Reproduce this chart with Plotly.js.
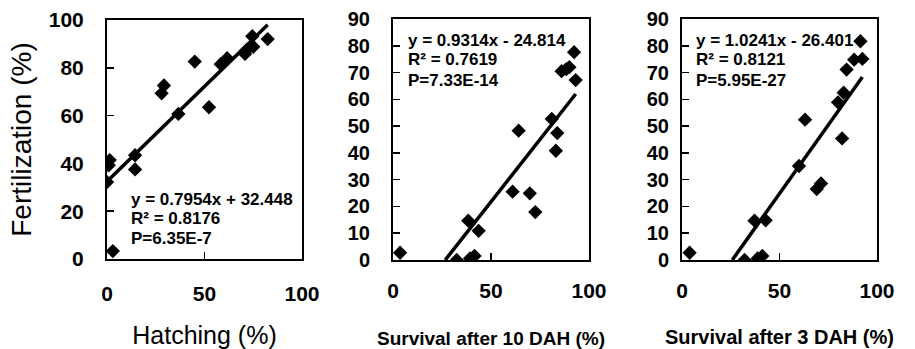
<!DOCTYPE html>
<html>
<head>
<meta charset="utf-8">
<script src="https://cdn.plot.ly/plotly-3.0.1.min.js"></script>
<style>html,body{margin:0;padding:0;background:#fff;}#chart{width:915px;height:349px;}</style>
</head>
<body>
<div id="chart"></div>
<script>
// Panel 1: Hatching vs Fertilization
var hatching = [0, 0.9, 1.4, 3, 14.4, 14.4, 28, 29.2, 36.6, 45, 52.3, 58.3, 61.6, 70.8, 71.6, 74.5, 75, 82.4];
var fert1 = [32.2, 39.2, 41.4, 3.3, 43.4, 37.5, 69.3, 72.6, 60.7, 82.6, 63.5, 81.5, 84, 85.8, 87.4, 93.2, 88.8, 92];
// Panel 2: Survival after 10 DAH vs Fertilization
var surv10 = [3.6, 32.5, 38.4, 39.3, 41.6, 43.7, 61, 64.1, 69.8, 72.6, 81, 83.1, 83.8, 86, 88.4, 90, 92.4, 93.2];
var fert2 = [2.7, 0, 14.7, 0.6, 1.5, 10.9, 25.5, 48.3, 24.9, 17.9, 52.7, 40.8, 47.4, 70.5, 71.3, 72, 77.6, 67.2];
// Panel 3: Survival after 3 DAH vs Fertilization
var surv3 = [3.9, 32.1, 37.2, 38.8, 41.2, 42.9, 60, 63.1, 69.1, 71.3, 80, 82.1, 82.9, 84.4, 88.3, 91.5, 92.5];
var fert3 = [2.7, 0, 14.7, 0.6, 1.5, 14.8, 35.1, 52.4, 26.5, 28.6, 58.9, 45.4, 62.5, 71.1, 74.8, 81.7, 75.1];
// Trendline coefficients (from the chart's equations)
var slopes = [0.7954, 0.9314, 1.0241];
var intercepts = [32.448, -24.814, -26.401];
var eqText = ['y = 0.7954x + 32.448', 'y = 0.9314x - 24.814', 'y = 1.0241x - 26.401'];
var r2Text = ['R² = 0.8176', 'R² = 0.7619', 'R² = 0.8121'];
var pText = ['P=6.35E-7', 'P=7.33E-14', 'P=5.95E-27'];
var xTitles = ['Hatching (%)', 'Survival after 10 DAH (%)', 'Survival after 3 DAH (%)'];
var yTitle = 'Fertilization (%)';
var xTicks = [0, 50, 100];
var yTicks1 = [0, 20, 40, 60, 80, 100];
var yTicks23 = [0, 10, 20, 30, 40, 50, 60, 70, 80, 90];

var xs = [hatching, surv10, surv3];
var ys = [fert1, fert2, fert3];
var axX = ['x', 'x2', 'x3'];
var axY = ['y', 'y2', 'y3'];
var traces = [];
for (var i = 0; i < 3; i++) {
  traces.push({
    type: 'scatter', mode: 'markers', x: xs[i], y: ys[i], xaxis: axX[i], yaxis: axY[i],
    marker: {symbol: 'diamond', size: 11, color: '#000'}, showlegend: false, hoverinfo: 'x+y'
  });
  var xmin = Math.min.apply(null, xs[i]), xmax = Math.max.apply(null, xs[i]);
  var x0 = Math.max(xmin, -intercepts[i] / slopes[i]);
  traces.push({
    type: 'scatter', mode: 'lines', x: [x0, xmax],
    y: [slopes[i] * x0 + intercepts[i], slopes[i] * xmax + intercepts[i]],
    xaxis: axX[i], yaxis: axY[i], line: {color: '#000', width: 3.5}, showlegend: false, hoverinfo: 'skip'
  });
}

var FONT = 'Arial, "Liberation Sans", sans-serif';
function xax(domain, anchor, tickSize, standoff, title, titleFont, titleStandoff) {
  return {
    domain: domain, anchor: anchor, range: [0, 100], tickvals: xTicks, ticktext: xTicks.map(String),
    showline: true, mirror: true, linecolor: '#000', linewidth: 2, showgrid: false, zeroline: false,
    ticks: 'inside', ticklen: 7, tickwidth: 1.5, tickcolor: '#000',
    tickfont: {family: FONT, size: tickSize, color: '#000', weight: 'bold'}, ticklabelstandoff: standoff,
    title: {text: title, font: titleFont, standoff: titleStandoff}
  };
}
function yax(domain, anchor, range, vals, tickSize, standoff, title) {
  var a = {
    domain: domain, anchor: anchor, range: range, tickvals: vals, ticktext: vals.map(String),
    showline: true, mirror: true, linecolor: '#000', linewidth: 2, showgrid: false, zeroline: false,
    ticks: 'inside', ticklen: 7, tickwidth: 1.5, tickcolor: '#000',
    tickfont: {family: FONT, size: tickSize, color: '#000', weight: 'bold'}, ticklabelstandoff: standoff
  };
  if (title) a.title = {text: title, font: {family: FONT, size: 28, color: '#000'}, standoff: 9};
  return a;
}

var W = 915, H = 349;
function px(v) { return v / W; }
function py(v) { return 1 - v / H; }

var layout = {
  width: W, height: H, margin: {l: 0, r: 0, t: 0, b: 0},
  paper_bgcolor: '#fff', plot_bgcolor: '#fff', showlegend: false,
  xaxis: xax([px(107), px(302)], 'y', 21, 15, xTitles[0],
    {family: FONT, size: 25, color: '#000'}, 28),
  xaxis2: xax([px(393), px(589)], 'y2', 21, 11, xTitles[1],
    {family: FONT, size: 19, color: '#000', weight: 'bold'}, 35),
  xaxis3: xax([px(682), px(877)], 'y3', 21, 11, xTitles[2],
    {family: FONT, size: 20, color: '#000', weight: 'bold'}, 29),
  yaxis: yax([py(259), py(20)], 'x', [0, 100], yTicks1, 21, 17, yTitle),
  yaxis2: yax([py(260), py(19)], 'x2', [0, 90], yTicks23, 20, 17),
  yaxis3: yax([py(260), py(19)], 'x3', [0, 90], yTicks23, 20, 7),
  annotations: []
};
// regression text labels in data coordinates of each panel
var txtX = [11.8, 7.0, 6.7];
var txtY = [[24.7, 16.8, 8.5], [81.8, 74.9, 67.2], [81.8, 74.9, 67.2]];
for (var k = 0; k < 3; k++) {
  var lines = [eqText[k], r2Text[k], pText[k]];
  for (var j = 0; j < 3; j++) {
    layout.annotations.push({
      xref: axX[k], yref: axY[k], x: txtX[k], y: txtY[k][j], xanchor: 'left', yanchor: 'middle',
      text: lines[j], showarrow: false, borderpad: 0,
      font: {family: FONT, size: 17, color: '#000', weight: 'bold'}
    });
  }
}
Plotly.newPlot('chart', traces, layout, {displayModeBar: false, staticPlot: true});
</script>
</body>
</html>
